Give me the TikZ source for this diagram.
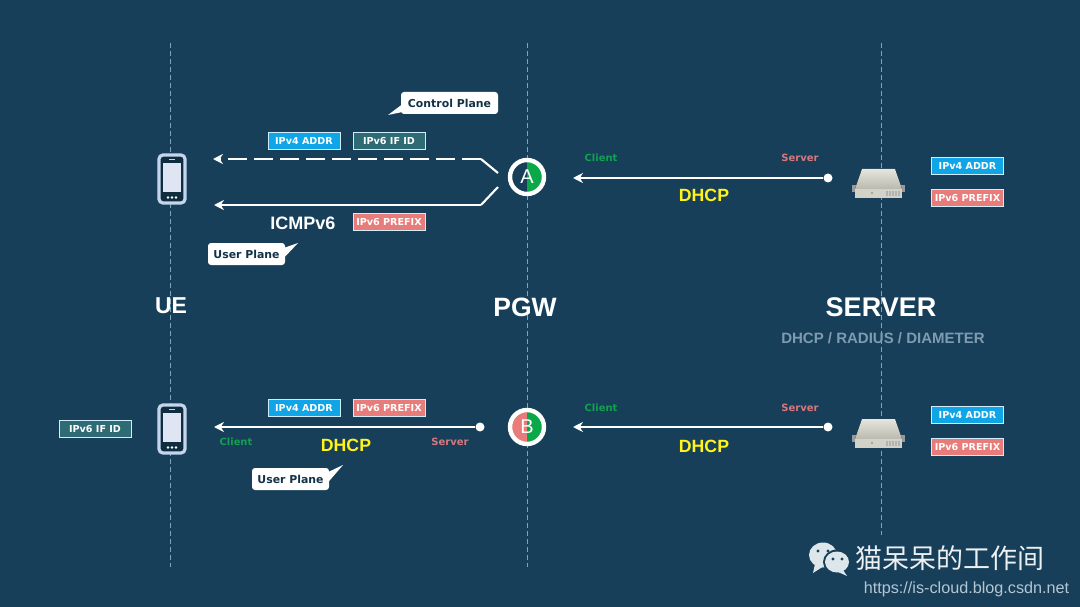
\documentclass[tikz,border=0pt]{standalone}
\usepackage{fontspec}
\setmainfont{Liberation Sans}
\newfontfamily\tagfont{DejaVu Sans}
\newfontfamily\cjkfont{Noto Sans CJK SC}
\usetikzlibrary{arrows.meta, positioning}
\definecolor{PageBg}{HTML}{173F5A}
\definecolor{GuideLine}{HTML}{7FA3B8}
\definecolor{TagBlue}{HTML}{10A5E6}
\definecolor{TagTeal}{HTML}{2F6B74}
\definecolor{TagRed}{HTML}{E87C7A}
\definecolor{ClientGreen}{HTML}{12A150}
\definecolor{ServerRed}{HTML}{D9777C}
\definecolor{HalfGreen}{HTML}{0BA84A}
\definecolor{PhoneEdge}{HTML}{C5D6EC}
\definecolor{PhoneScreen}{HTML}{E0E5F4}
\definecolor{SubGrey}{HTML}{7F9BB0}
\definecolor{MarkGrey}{HTML}{DDE6EA}
\definecolor{UrlGrey}{HTML}{B4C6D2}
\definecolor{ServerTop}{HTML}{E6E6DE}
\definecolor{ServerMid}{HTML}{B9B9AE}
\definecolor{ServerFront}{HTML}{D2D2C8}
\tikzset{
  guide/.style={GuideLine, line width=0.6pt, dash pattern=on 5pt off 3pt},
  tag/.style={draw=white!80!TagBlue, line width=0.7pt, minimum width=72pt, minimum height=17pt, inner sep=0pt, text=white, font=\tagfont\bfseries\fontsize{9.6}{11}\selectfont},
  tagblue/.style={tag, fill=TagBlue},
  tagteal/.style={tag, fill=TagTeal},
  tagred/.style={tag, fill=TagRed},
  callout/.style={fill=white, rounded corners=3pt, minimum height=22pt, inner sep=0pt, text=PageBg!80!black, font=\tagfont\bfseries\fontsize{10.9}{12}\selectfont},
  client/.style={text=ClientGreen, font=\tagfont\bfseries\fontsize{9.9}{11}\selectfont},
  server/.style={text=ServerRed, font=\tagfont\bfseries\fontsize{10}{11}\selectfont},
  proto/.style={text=yellow!90!white, font=\bfseries\fontsize{17.7}{19}\selectfont},
  title/.style={text=white, font=\bfseries\fontsize{23}{26}\selectfont},
  flow/.style={draw=white, line width=2.1pt},
  flowtip/.style={flow, -{Stealth[length=10pt, width=10pt]}},
  dot/.style={circle, fill=white, minimum size=9pt, inner sep=0pt},
  gateway/.style={circle, draw=white, line width=4.4pt, minimum size=34pt, inner sep=0pt, text=white, font=\fontsize{20}{21}\selectfont},
  phone/.pic={
    \draw[PhoneEdge, fill=PageBg!70!black, line width=3.2pt, rounded corners=4pt] (-13,-24) rectangle (13,24);
    \fill[PhoneScreen] (-9,-16) rectangle (9,13);
    \fill[PhoneEdge] (-3,-20) rectangle (3,-19);
    \foreach \dx in {-4,0,4} \fill[white] (\dx,18.5) circle (1.4);
  },
  server box/.pic={
    \fill[gray!80] (-26,16) rectangle (27,23);
    \fill[top color=ServerTop, bottom color=ServerMid] (-16,0) -- (17,0) -- (24,20) -- (-23,20) -- cycle;
    \fill[ServerFront] (-23,20) rectangle (24,29);
    \fill[gray!70] (-7,23) rectangle (-5,25);
    \foreach \dx in {8,11,14,17,20} \fill[gray!60] (\dx,22) rectangle ++(1.5,5);
  }
}
\begin{document}
\begin{tikzpicture}[x=1pt, y=-1pt]
  \useasboundingbox[fill=PageBg] (0,0) rectangle (1080,607);
  \coordinate (ueTop) at (170,43);
  \coordinate (ueEnd) at (170,567);
  \coordinate (pgwTop) at (527,43);
  \coordinate (pgwEnd) at (527,567);
  \coordinate (srvTop) at (881,43);
  \coordinate (srvEnd) at (881,535);
  \draw[guide] (ueTop) -- (ueEnd);
  \draw[guide] (pgwTop) -- (pgwEnd);
  \draw[guide] (srvTop) -- (srvEnd);

  \pic at (172,179) {phone};
  \pic at (172,429) {phone};
  \pic at (878,169) {server box};
  \pic at (878,419) {server box};

  \node[gateway, path picture={\fill[HalfGreen] (path picture bounding box.north) rectangle (path picture bounding box.south east);}] (gwA) at (527,177) {A};
  \node[gateway, path picture={\fill[HalfGreen] (path picture bounding box.north) rectangle (path picture bounding box.south east); \fill[TagRed] (path picture bounding box.north) rectangle (path picture bounding box.south west);}] (gwB) at (527,427) {B};

  \node[dot] (srvDotA) at (828,178) {};
  \node[dot] (srvDotB) at (828,427) {};
  \node[dot] (gwDotB) at (480,427) {};
  \coordinate (tipA) at (573,178);
  \coordinate (tipB) at (573,427);
  \coordinate (tipUe) at (214,427);
  \coordinate (ctlStart) at (498,173);
  \coordinate (ctlBend) at (481,159);
  \coordinate (ctlTip) at (213,159);
  \coordinate (usrStart) at (498,187);
  \coordinate (usrBend) at (481,205);
  \coordinate (usrTip) at (214,205);

  \draw[flowtip] (srvDotA) -- (tipA);
  \draw[flowtip] (srvDotB) -- (tipB);
  \draw[flowtip] (gwDotB) -- (tipUe);
  \draw[flow] (ctlStart) -- (ctlBend);
  \draw[flowtip, dash pattern=on 19pt off 7pt] (ctlBend) -- (ctlTip);
  \draw[flow] (usrStart) -- (usrBend);
  \draw[flowtip] (usrBend) -- (usrTip);

  \node[tagblue] (v4A) at (304,141) {IPv4 ADDR};
  \node[tagteal] (ifA) at (389,141) {IPv6 IF ID};
  \node[tagred] (preA) at (389,222) {IPv6 PREFIX};
  \node[tagblue] (v4SrvA) at (967.5,166) {IPv4 ADDR};
  \node[tagred] (preSrvA) at (967.5,198) {IPv6 PREFIX};
  \node[tagteal] (ifB) at (95,429) {IPv6 IF ID};
  \node[tagblue] (v4B) at (304,408) {IPv4 ADDR};
  \node[tagred] (preB) at (389,408) {IPv6 PREFIX};
  \node[tagblue] (v4SrvB) at (967.5,415) {IPv4 ADDR};
  \node[tagred] (preSrvB) at (967.5,447) {IPv6 PREFIX};

  \fill[white] (404,103) -- (388,115) -- (412,110) -- cycle;
  \node[callout, minimum width=97pt] (ctlPlane) at (449.5,103) {Control Plane};
  \fill[white] (278,250) -- (298,243) -- (280,262) -- cycle;
  \node[callout, minimum width=77pt] (usrPlaneA) at (246.5,254) {User Plane};
  \fill[white] (322,475) -- (343,465) -- (324,487) -- cycle;
  \node[callout, minimum width=77pt] (usrPlaneB) at (290.5,479) {User Plane};

  \node[client] (cliA) at (601,158) {Client};
  \node[server] (svrA) at (800,158) {Server};
  \node[proto] (dhcpA) at (704,195) {DHCP};
  \node[client] (cliB) at (601,408) {Client};
  \node[server] (svrB) at (800,408) {Server};
  \node[proto] (dhcpB) at (704,446) {DHCP};
  \node[client] (cliUe) at (236,442) {Client};
  \node[server] (svrGw) at (450,442) {Server};
  \node[proto] (dhcpUe) at (346,445) {DHCP};
  \node[text=white, font=\bfseries\fontsize{18}{20}\selectfont] (icmp) at (303,223) {ICMPv6};

  \node[title] (ue) at (171,306) {UE};
  \node[title, font=\bfseries\fontsize{26.5}{28}\selectfont] (pgw) at (525,307) {PGW};
  \node[title, font=\bfseries\fontsize{27}{29}\selectfont] (srv) at (881,307) {SERVER};
  \node[text=SubGrey, font=\bfseries\fontsize{15}{17}\selectfont] (srvSub) at (883,338) {DHCP / RADIUS / DIAMETER};

  \fill[MarkGrey] (823,555) ellipse (14 and 12.5);
  \fill[MarkGrey] (815,564) -- (813,573) -- (824,566) -- cycle;
  \fill[PageBg] (837,562) ellipse (14 and 12.5);
  \fill[MarkGrey] (837,562) ellipse (12 and 10.5);
  \fill[MarkGrey] (843,570) -- (847,576) -- (838,572) -- cycle;
  \foreach \mx/\my in {818/551, 828/551, 833/559, 842/559} \fill[PageBg] (\mx,\my) circle (1.6);
  \node[text=white!92!PageBg, font=\cjkfont\fontsize{27}{30}\selectfont] (brand) at (950,558) {猫呆呆的工作间};
  \node[text=UrlGrey, font=\fontsize{16.2}{18}\selectfont] (url) at (966.5,589) {https://is-cloud.blog.csdn.net};
\end{tikzpicture}
\end{document}
